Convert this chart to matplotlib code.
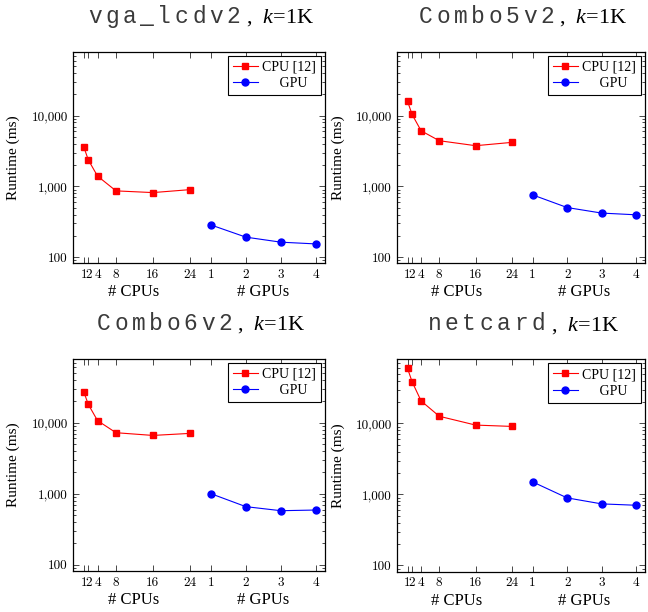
import matplotlib
matplotlib.use("Agg")
import matplotlib.pyplot as plt
import matplotlib.ticker as ticker
import matplotlib.transforms as mtransforms

plt.rcParams["font.family"] = "Liberation Serif"
plt.rcParams["mathtext.fontset"] = "custom"
plt.rcParams["mathtext.rm"] = "Liberation Serif"
plt.rcParams["mathtext.it"] = "Liberation Serif:italic"

designs = ["vga_lcdv2", "Combo5v2", "Combo6v2", "netcard"]

cpu_counts = [1, 2, 4, 8, 16, 24]
gpu_counts = [1, 2, 3, 4]

cpu_runtime = {
    "vga_lcdv2": [3650, 2370, 1400, 865, 818, 900],
    "Combo5v2": [16000, 10400, 6100, 4420, 3760, 4190],
    "Combo6v2": [27400, 18100, 10700, 7230, 6620, 7070],
    "netcard": [59700, 38700, 20700, 12600, 9470, 9070],
}
gpu_runtime = {
    "vga_lcdv2": [286, 192, 163, 154],
    "Combo5v2": [759, 503, 420, 397],
    "Combo6v2": [1005, 659, 578, 591],
    "netcard": [1500, 893, 735, 703],
}

# where the GPU part of the shared x axis sits (in CPU-axis units)
GPU_OFFSET = 20.95
GPU_SCALE = 7.6


def gpu_pos(g):
    return GPU_OFFSET + GPU_SCALE * g


def fmt_thousands(y, _):
    return f"{int(round(y)):,}"


def draw_title(ax, name):
    # typewriter name is letter-spaced in the original, so place it glyph by glyph
    step = 17.3          # px per character
    tail_w = 66.0        # px for ", k=1K"
    start = -(len(name) * step + tail_w) / 2
    dy = 29 / 100
    for i, ch in enumerate(name):
        tr = ax.transAxes + mtransforms.ScaledTranslation(
            (start + i * step) / 100, dy, fig.dpi_scale_trans)
        ax.text(0.5, 1.0, ch, transform=tr, ha="left", va="baseline",
                fontsize=16.5, family="Liberation Mono", color="#3a3a3a")
    tr = ax.transAxes + mtransforms.ScaledTranslation(
        (start + len(name) * step + 2) / 100, dy, fig.dpi_scale_trans)
    ax.text(0.5, 1.0, r",  $k$=1K", transform=tr, ha="left", va="baseline",
            fontsize=16)


W, H = 648, 612
# axes boxes in pixels: left, top, right, bottom
boxes = [
    (73.3, 51.7, 325.0, 263.3),
    (397.3, 51.7, 645.0, 263.3),
    (73.3, 358.5, 325.0, 571.0),
    (397.3, 359.3, 645.0, 571.5),
]

fig = plt.figure(figsize=(W / 100, H / 100), dpi=100)

for name, (l, t, r, b) in zip(designs, boxes):
    ax = fig.add_axes([l / W, 1 - b / H, (r - l) / W, (b - t) / H])

    ax.plot(cpu_counts, cpu_runtime[name], color="red", marker="s",
            markersize=5, linewidth=0.8, label="CPU [12]")
    ax.plot([gpu_pos(g) for g in gpu_counts], gpu_runtime[name],
            color="blue", marker="o", markersize=5, linewidth=0.8,
            label="     GPU")

    ax.set_yscale("log")
    ax.set_ylim(82, 80000)
    ax.set_xlim(-1.25, 53.3)
    ax.set_yticks([100, 1000, 10000])
    ax.yaxis.set_major_formatter(ticker.FuncFormatter(fmt_thousands))
    ax.yaxis.set_minor_locator(ticker.LogLocator(base=10, subs=range(2, 10)))
    ax.yaxis.set_minor_formatter(ticker.NullFormatter())

    xt = cpu_counts + [gpu_pos(g) for g in gpu_counts]
    ax.set_xticks(xt)
    ax.set_xticklabels([str(c) for c in cpu_counts] + [str(g) for g in gpu_counts])

    ax.tick_params(which="both", direction="in", top=True, right=True,
                   labelsize=9.5, width=0.5, pad=4)
    ax.tick_params(which="major", length=4)
    ax.tick_params(which="minor", length=2.5)
    for lab in ax.get_xticklabels() + ax.get_yticklabels():
        lab.set_family("cmr10")
    for s in ax.spines.values():
        s.set_linewidth(0.9)

    ax.set_ylabel("Runtime (ms)", fontsize=11)
    ax.yaxis.set_label_coords(-0.21, 0.5)

    trans = mtransforms.blended_transform_factory(ax.transData, ax.transAxes)
    ax.text(11.8, -0.137, "# CPUs", transform=trans, ha="center",
            va="center", fontsize=12)
    ax.text(gpu_pos(2.5), -0.137, "# GPUs", transform=trans, ha="center",
            va="center", fontsize=12)

    draw_title(ax, name)

    leg = ax.legend(loc="upper right", fontsize=10, fancybox=False,
                    edgecolor="black", framealpha=1, handlelength=1.8,
                    handletextpad=0.3, borderpad=0.35, labelspacing=0.25,
                    borderaxespad=0.3)
    leg.get_frame().set_linewidth(0.8)

fig.savefig("out.png", dpi=100)
